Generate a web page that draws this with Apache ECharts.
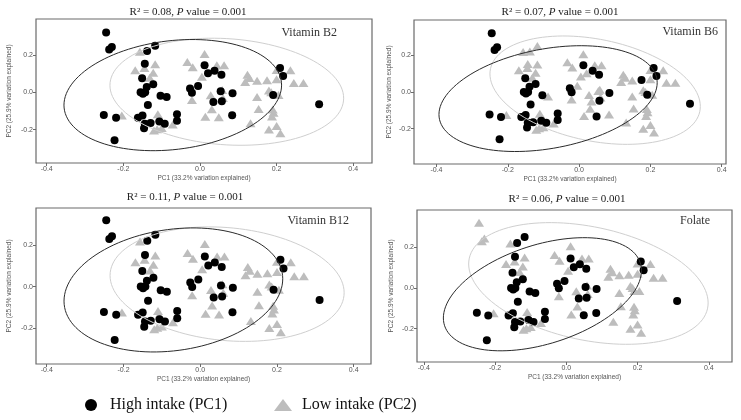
<!DOCTYPE html>
<html>
<head>
<meta charset="utf-8">
<script src="https://cdn.jsdelivr.net/npm/echarts@6/dist/echarts.min.js"></script>
<style>html,body{margin:0;padding:0;background:#fff;}#chart{width:741px;height:420px;}</style>
</head>
<body>
<div id="chart"></div>
<script>
// ---- DATA ----
// Sample coordinates (same samples in every panel)
const pc1 = [
  -0.245,-0.237,-0.230,-0.117,-0.138,-0.144,-0.151,-0.139,-0.122,-0.155,
  -0.149,-0.143,-0.136,-0.103,-0.087,-0.251,-0.219,-0.162,-0.150,-0.144,
  -0.129,-0.146,-0.106,-0.092,-0.060,-0.060,-0.223,-0.026,-0.021,-0.005,
   0.012, 0.021, 0.038, 0.056, 0.054, 0.057, 0.035, 0.085, 0.084, 0.209,
   0.217, 0.191, 0.311,-0.157,-0.169,-0.145,-0.117,-0.122,-0.131,-0.033,
  -0.019, 0.012, 0.005, 0.044, 0.063,-0.021, 0.028, 0.031, 0.014, 0.049,
   0.060, 0.058,-0.110,-0.108,-0.112,-0.120,-0.100,-0.071,-0.204, 0.124,
   0.129, 0.118, 0.149, 0.175, 0.200, 0.200, 0.236, 0.245, 0.270, 0.180,
   0.186, 0.205, 0.149, 0.153, 0.190, 0.192, 0.188, 0.132, 0.180, 0.200,
   0.210
];
const pc2 = [
   0.320, 0.229, 0.243, 0.250, 0.221, 0.153, 0.075, 0.028, 0.043, 0.000,
  -0.008, 0.000,-0.068,-0.018,-0.025,-0.122,-0.136,-0.136,-0.125,-0.168,
  -0.165,-0.193,-0.157,-0.168,-0.117,-0.153,-0.257, 0.020,-0.002, 0.034,
   0.145, 0.102, 0.116, 0.094, 0.005,-0.048,-0.052,-0.005,-0.123, 0.130,
   0.087,-0.015,-0.064, 0.218, 0.118, 0.130, 0.150, 0.105, 0.078, 0.162,
   0.134, 0.205, 0.084, 0.145, 0.145,-0.041,-0.016,-0.091,-0.131,-0.134,
  -0.030, 0.012,-0.118,-0.140,-0.198,-0.205,-0.192,-0.172,-0.125, 0.094,
   0.077, 0.055, 0.062, 0.065, 0.070, 0.120, 0.118, 0.050, 0.050, 0.010,
   0.000,-0.015,-0.025,-0.090,-0.092,-0.110,-0.130,-0.166,-0.200,-0.180,
  -0.220
];
// Group membership per panel (H = high intake, L = low intake)
const groupB2     = 'HHHHHHHHHH HHHHHHHHHH HHHHHHHHHH HHHHHHHHHH HHHLLLLLLL LLLLLLLLLL LLLLLLLLLL LLLLLLLLLL LLLLLLLLLL L';
const groupB6     = 'HHHLLLHHHH HHHHLHHHHH HHHHHHHHHL HLHHLHLHLH HHHLLLLLLL LLLLLLLLLH LLLLLLLLLL LLLHLLLLLL LLLLLLLLLL L';
const groupB12    = 'HHHHHHHHHH HHHHHHHHHH HHHHHHHHHH HHHHHHHHHH HHHLLLLLLL LLLLLLLLLL LLLLLLLLLL LLLLLLLLLL LLLLLLLLLL L';
const groupFolate = 'LLLHHHHHHH HHHHHHHHHH HHHHHHHHHH HHHHHHHHHH HLHLLLLLLL LLLLLLLLLH LLLLLLLLLL LLLLLLLLLL LLLLLLLLLL L';

// Ellipse parameters: [centerX, centerY, halfWidthX, halfHeightY, correlation]
const ellHighB2 = [-0.071,-0.015,0.284,0.298, 0.18];
const ellLowB2  = [ 0.070, 0.003,0.305,0.287,-0.12];
const ellHighB6 = [-0.087,-0.036,0.306,0.288, 0.30];
const ellLowB6  = [ 0.045, 0.010,0.295,0.295,-0.30];
const ellHighB12= [-0.070,-0.016,0.285,0.299, 0.18];
const ellLowB12 = [ 0.070, 0.012,0.305,0.276,-0.15];
const ellHighFol= [-0.067,-0.031,0.278,0.278, 0.42];
const ellLowFol = [ 0.062, 0.022,0.336,0.299,-0.32];

const panelNames = ['Vitamin B2','Vitamin B6','Vitamin B12','Folate'];
const r2Values   = ['0.08','0.07','0.11','0.06'];
const pValues    = ['0.001','0.001','0.001','0.001'];
const xTicks = [-0.4,-0.2,0.0,0.2,0.4];
const yTicks = [-0.2,0.0,0.2];
const xTitle = 'PC1 (33.2% variation explained)';
const yTitle = 'PC2 (25.9% variation explained)';
const legendHigh = 'High intake (PC1)';
const legendLow  = 'Low intake (PC2)';

// ---- LAYOUT ----
const layout = [
  {grid:{left:36, top:19, width:336, height:144}, x:[-0.428,0.449], y:[-0.379,0.393], title:[188,12], label:[337,33], yGap:23},
  {grid:{left:414, top:20, width:312, height:144}, x:[-0.463,0.412], y:[-0.392,0.392], title:[560,12], label:[718,32], yGap:21},
  {grid:{left:36, top:208, width:335, height:156}, x:[-0.428,0.445], y:[-0.373,0.379], title:[185,197], label:[349,221], yGap:23},
  {grid:{left:417, top:210, width:315, height:152}, x:[-0.419,0.465], y:[-0.364,0.383], title:[567,199], label:[710,221], yGap:22}
];
const groups = [groupB2, groupB6, groupB12, groupFolate].map(s => s.replace(/ /g,''));
const ells = [[ellHighB2,ellLowB2],[ellHighB6,ellLowB6],[ellHighB12,ellLowB12],[ellHighFol,ellLowFol]];

function ellipsePts(p){
  const [cx,cy,xh,yh,rho] = p;
  const pts = [];
  const s = Math.sqrt(1-rho*rho);
  for(let k=0;k<=120;k++){
    const t = 2*Math.PI*k/120;
    pts.push([cx + xh*Math.cos(t), cy + yh*(rho*Math.cos(t) + s*Math.sin(t))]);
  }
  return pts;
}

const grids=[], xAxes=[], yAxes=[], series=[], graphics=[];
const tickFont = {fontFamily:'Liberation Sans, Arial, sans-serif', fontSize:7, color:'#555'};
layout.forEach((L,i)=>{
  grids.push(Object.assign({show:true, borderColor:'#6a6a6a', borderWidth:1.2, backgroundColor:'#fff'}, L.grid));
  xAxes.push({type:'value', gridIndex:i, min:L.x[0], max:L.x[1], position:'bottom',
    name:xTitle, nameLocation:'middle', nameGap:12,
    nameTextStyle:{fontFamily:'Liberation Sans, Arial, sans-serif', fontSize:6.5, color:'#555'},
    axisLine:{show:false, onZero:false}, splitLine:{show:false},
    axisTick:{show:true, length:3, customValues:xTicks, lineStyle:{color:'#6a6a6a'}},
    axisLabel:Object.assign({customValues:xTicks, margin:3, formatter:v=>v.toFixed(1)}, tickFont)});
  yAxes.push({type:'value', gridIndex:i, min:L.y[0], max:L.y[1], position:'left',
    name:yTitle, nameLocation:'middle', nameGap:L.yGap,
    nameTextStyle:{fontFamily:'Liberation Sans, Arial, sans-serif', fontSize:6.5, color:'#555'},
    axisLine:{show:false, onZero:false}, splitLine:{show:false},
    axisTick:{show:true, length:3, customValues:yTicks, lineStyle:{color:'#6a6a6a'}},
    axisLabel:Object.assign({customValues:yTicks, margin:3, formatter:v=>v.toFixed(1)}, tickFont)});
  const g = groups[i];
  const hi=[], lo=[];
  for(let k=0;k<pc1.length;k++){ (g[k]==='H'?hi:lo).push([pc1[k],pc2[k]]); }
  series.push({type:'scatter', name:legendLow, xAxisIndex:i, yAxisIndex:i, data:lo, symbol:'triangle', symbolSize:[10,8],
    itemStyle:{color:'#bdbdbd', opacity:1}, z:2, silent:true});
  series.push({type:'scatter', name:legendHigh, xAxisIndex:i, yAxisIndex:i, data:hi, symbol:'circle', symbolSize:8,
    itemStyle:{color:'#000', opacity:1}, z:3, silent:true});
  series.push({type:'line', xAxisIndex:i, yAxisIndex:i, data:ellipsePts(ells[i][1]), symbol:'none',
    lineStyle:{color:'#cfcfcf', width:1}, z:4, silent:true});
  series.push({type:'line', xAxisIndex:i, yAxisIndex:i, data:ellipsePts(ells[i][0]), symbol:'none',
    lineStyle:{color:'#2b2b2b', width:1}, z:5, silent:true});
  graphics.push({type:'text', x:L.title[0], y:L.title[1], z:10, style:{
    text:'{n|R² = '+r2Values[i]+', }{i|P}{n| value = '+pValues[i]+'}',
    align:'center', verticalAlign:'middle',
    rich:{n:{fontFamily:'Liberation Serif, Times New Roman, serif', fontSize:11, fill:'#222'},
          i:{fontFamily:'Liberation Serif, Times New Roman, serif', fontSize:11, fontStyle:'italic', fill:'#222'}}}});
  graphics.push({type:'text', x:L.label[0], y:L.label[1], z:10, style:{
    text:panelNames[i], align:'right', verticalAlign:'middle',
    font:'12px "Liberation Serif", "Times New Roman", serif', fill:'#333'}});
});
// legend
graphics.push({type:'circle', shape:{cx:91, cy:405, r:6}, style:{fill:'#000'}});
graphics.push({type:'text', x:110, y:405, style:{text:legendHigh, align:'left', verticalAlign:'middle',
  font:'16px "Liberation Serif", "Times New Roman", serif', fill:'#111'}});
graphics.push({type:'polygon', shape:{points:[[274,411],[292,411],[283,399]]}, style:{fill:'#bdbdbd'}});
graphics.push({type:'text', x:302, y:405, style:{text:legendLow, align:'left', verticalAlign:'middle',
  font:'16px "Liberation Serif", "Times New Roman", serif', fill:'#111'}});

const chart = echarts.init(document.getElementById('chart'), null, {renderer:'canvas'});
chart.setOption({animation:false, backgroundColor:'#fff', grid:grids, xAxis:xAxes, yAxis:yAxes, series:series, graphic:graphics});
</script>
</body>
</html>
